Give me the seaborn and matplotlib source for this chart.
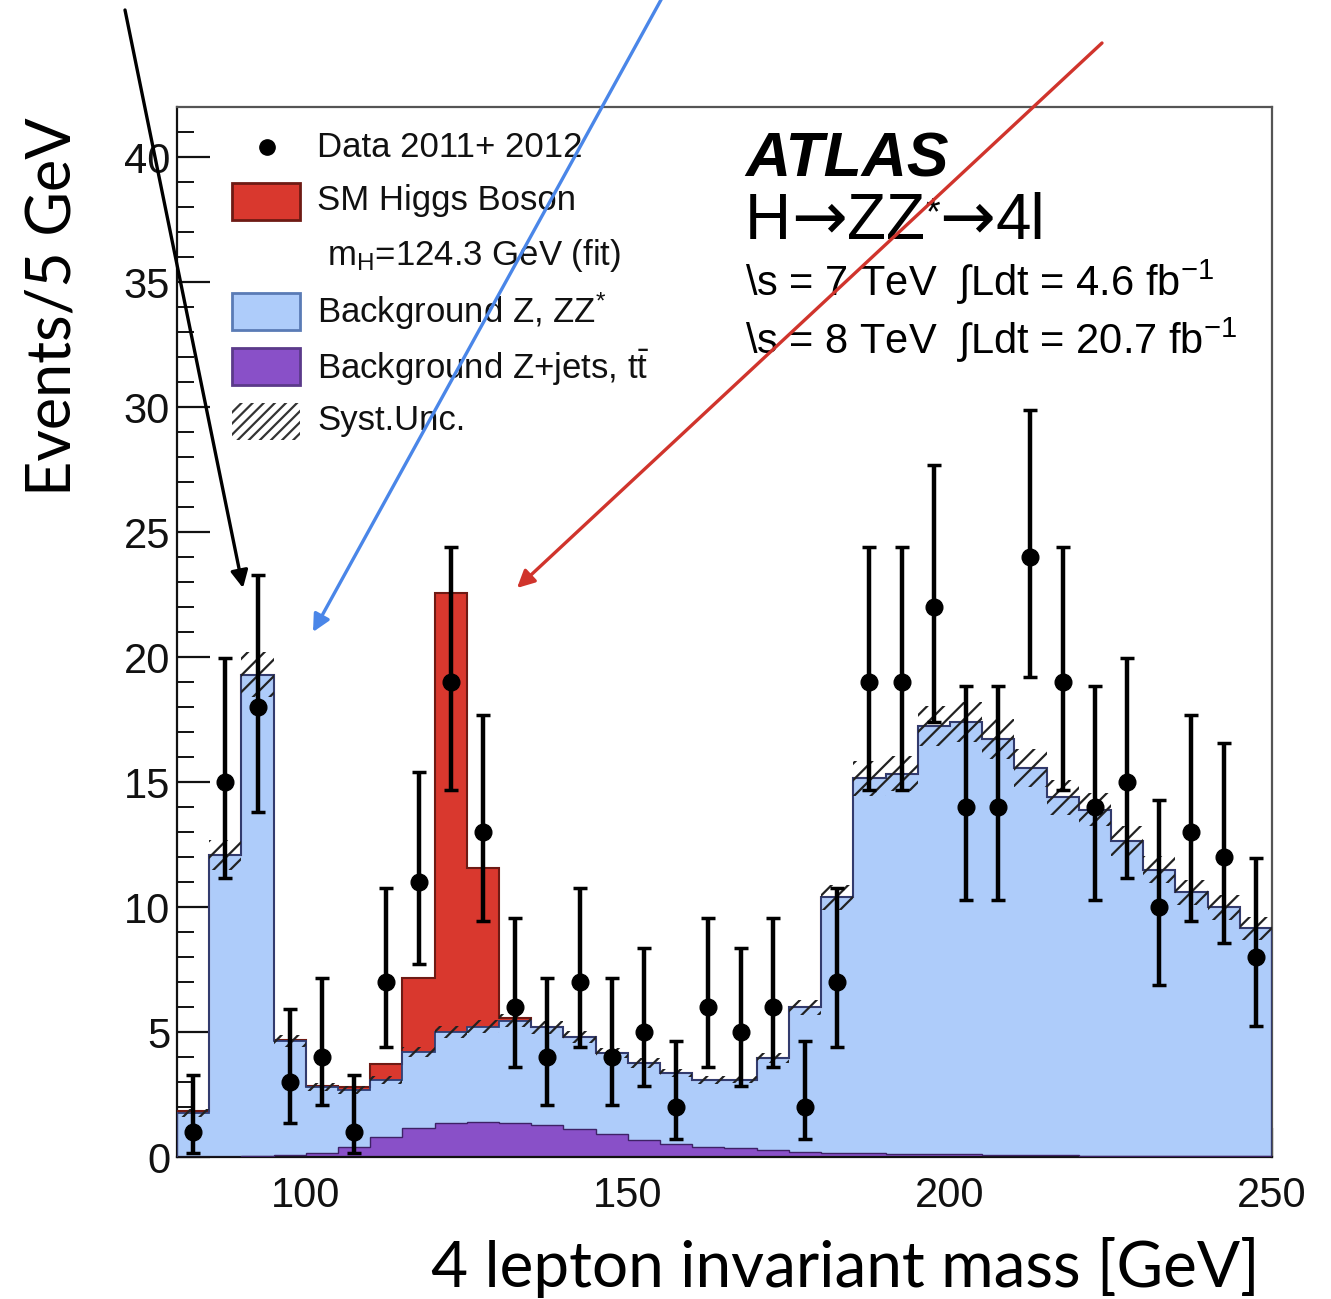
import numpy as np
import pandas as pd
import matplotlib
matplotlib.use("Agg")
import matplotlib.pyplot as plt
import seaborn as sns
from matplotlib.patches import Rectangle
from matplotlib.ticker import MultipleLocator

# ---------------- data ----------------
bin_low = np.arange(80, 250, 5)          # 5 GeV bins, 80 .. 250
bin_width = 5

data_counts = [1, 15, 18, 3, 4, 1, 7, 11, 19, 13, 6, 4, 7, 4, 5, 2, 6, 5, 6, 2,
               7, 19, 19, 22, 14, 14, 24, 19, 14, 15, 10, 13, 12, 8]
data_err_lo = [0.83, 3.83, 4.2, 1.63, 1.91, 0.83, 2.58, 3.27, 4.3, 3.56, 2.38, 1.91,
               2.58, 1.91, 2.16, 1.29, 2.38, 2.16, 2.38, 1.29, 2.58, 4.3, 4.3, 4.6,
               3.7, 3.7, 4.8, 4.3, 3.7, 3.83, 3.11, 3.56, 3.42, 2.77]
data_err_hi = [2.3, 4.96, 5.3, 2.92, 3.16, 2.3, 3.77, 4.42, 5.4, 4.7, 3.58, 3.16,
               3.77, 3.16, 3.38, 2.64, 3.58, 3.38, 3.58, 2.64, 3.77, 5.4, 5.4, 5.7,
               4.83, 4.83, 5.9, 5.4, 4.83, 4.96, 4.27, 4.7, 4.56, 3.95]

bkg_zjets = [0.02, 0.02, 0.03, 0.08, 0.18, 0.41, 0.79, 1.17, 1.37, 1.41,
             1.37, 1.28, 1.11, 0.92, 0.68, 0.52, 0.41, 0.35, 0.28, 0.21,
             0.16, 0.15, 0.13, 0.12, 0.11, 0.10, 0.08, 0.07, 0.06, 0.05,
             0.05, 0.04, 0.04, 0.03]
bkg_zz = [1.75, 12.08, 19.27, 4.56, 2.63, 2.27, 2.29, 3.03, 3.63, 3.81,
          4.09, 3.91, 3.70, 3.25, 3.07, 2.85, 2.67, 2.75, 3.67, 5.79,
          10.24, 15.0, 15.2, 17.14, 17.29, 16.64, 15.49, 14.33, 13.84, 12.59,
          11.45, 10.56, 9.96, 9.12]
sig_higgs = [0.08, 0, 0, 0.05, 0.05, 0.12, 0.64, 2.95, 17.55, 6.35,
             0.1, 0.03, 0, 0, 0, 0, 0, 0, 0, 0,
             0, 0, 0, 0, 0, 0, 0, 0, 0, 0,
             0, 0, 0, 0]
syst_unc = [0.15, 0.6, 0.9, 0.25, 0.15, 0.15, 0.15, 0.2, 0.25, 0.25,
            0.25, 0.25, 0.25, 0.2, 0.2, 0.15, 0.15, 0.15, 0.2, 0.3,
            0.5, 0.7, 0.7, 0.8, 0.8, 0.8, 0.75, 0.7, 0.65, 0.6,
            0.55, 0.5, 0.5, 0.45]

x_ticks = [100, 150, 200, 250]
y_ticks = [0, 5, 10, 15, 20, 25, 30, 35, 40]

# ---------------- style ----------------
sns.set_style("ticks")
plt.rcParams["font.family"] = ["Liberation Sans", "DejaVu Sans"]
plt.rcParams["mathtext.fontset"] = "custom"
plt.rcParams["mathtext.rm"] = "Liberation Sans"
plt.rcParams["mathtext.it"] = "Liberation Sans:italic"
plt.rcParams["mathtext.bf"] = "Liberation Sans:bold"
plt.rcParams["hatch.color"] = "#222222"
plt.rcParams["hatch.linewidth"] = 1.6

C_RED = "#D9382E"
C_BLUE = "#AECCFA"
C_PURP = "#8950C8"
E_RED = "#6e1a14"
E_BLUE = "#2c3f78"
E_PURP = "#3e2266"

edges = np.append(bin_low, bin_low[-1] + bin_width)
centers = bin_low + bin_width / 2

fig = plt.figure(figsize=(13.31, 12.99), dpi=100)
ax = fig.add_axes([0.13298, 0.10931, 0.82269, 0.80831])

# stacked histograms through seaborn (last hue at the bottom of the stack)
comp_names = ["Higgs", "ZZ", "Zjets"]
df = pd.concat([
    pd.DataFrame({"mass": centers, "events": sig_higgs, "comp": "Higgs"}),
    pd.DataFrame({"mass": centers, "events": bkg_zz, "comp": "ZZ"}),
    pd.DataFrame({"mass": centers, "events": bkg_zjets, "comp": "Zjets"}),
], ignore_index=True)
sns.histplot(data=df, x="mass", weights="events", hue="comp", hue_order=comp_names,
             multiple="stack", binwidth=bin_width, binrange=(float(edges[0]), float(edges[-1])),
             element="step", fill=True, alpha=1,
             palette={"Higgs": C_RED, "ZZ": C_BLUE, "Zjets": C_PURP},
             linewidth=0, legend=False, ax=ax)

zj = np.array(bkg_zjets)
tot_bkg = zj + np.array(bkg_zz)
tot_all = tot_bkg + np.array(sig_higgs)

ax.stairs(tot_all, edges, color=E_RED, lw=1.5, zorder=3)
ax.stairs(tot_bkg, edges, color=E_BLUE, lw=1.3, zorder=3)
ax.stairs(zj, edges, color=E_PURP, lw=1.0, zorder=3)

# systematic band
syst = np.array(syst_unc)
ax.bar(centers, 2 * syst, bottom=tot_bkg - syst, width=bin_width, fill=False,
       hatch="//", edgecolor="#222222", linewidth=0, zorder=4)

# data
ax.errorbar(centers, data_counts, yerr=[data_err_lo, data_err_hi], fmt="o",
            color="black", ms=12, elinewidth=3.2, capsize=5, capthick=2.5, zorder=6)

# axes
ax.set_xlim(80, 250)
ax.set_ylim(0, 42)
ax.set_xticks(x_ticks)
ax.set_yticks(y_ticks)
ax.xaxis.set_minor_locator(MultipleLocator(10))
ax.yaxis.set_minor_locator(MultipleLocator(1))
ax.tick_params(axis="both", which="both", direction="in", top=False, right=False,
               labelsize=30, colors="#111111")
ax.tick_params(axis="y", which="major", length=24, width=1.6, pad=5)
ax.tick_params(axis="y", which="minor", length=12, width=1.4)
ax.tick_params(axis="x", which="major", length=21, width=1.6, pad=14)
ax.tick_params(axis="x", which="minor", length=9, width=1.4)
for s in ax.spines.values():
    s.set_linewidth(1.6)
    s.set_color("#555555")
ax.spines["left"].set_color("#111111")
ax.spines["bottom"].set_color("#111111")
ax.set_xlabel("")
ax.set_ylabel("")

# legend (drawn by hand)
tA = ax.transAxes
ax.plot([0.0822], [0.9619], "o", color="black", ms=11, transform=tA, zorder=7)
leg_fs = 25
ax.text(0.1279, 0.9619, "Data 2011+ 2012", transform=tA, fontsize=leg_fs, va="center", color="#111")
ax.add_patch(Rectangle((0.0502, 0.8924), 0.0621, 0.0352, transform=tA, facecolor=C_RED,
                       edgecolor=E_RED, lw=2, zorder=7))
ax.text(0.1279, 0.9105, "SM Higgs Boson", transform=tA, fontsize=leg_fs, va="center", color="#111")
ax.text(0.1370, 0.8590, r"m$_\mathrm{H}$=124.3 GeV (fit)", transform=tA, fontsize=leg_fs,
        va="center", color="#111")
ax.add_patch(Rectangle((0.0502, 0.7876), 0.0621, 0.0352, transform=tA, facecolor=C_BLUE,
                       edgecolor="#5a7bb5", lw=2, zorder=7))
ax.text(0.1279, 0.8057, r"Background Z, ZZ$^{*}$", transform=tA, fontsize=leg_fs, va="center", color="#111")
ax.add_patch(Rectangle((0.0502, 0.7352), 0.0621, 0.0352, transform=tA, facecolor=C_PURP,
                       edgecolor="#5b3a8a", lw=2, zorder=7))
ax.text(0.1279, 0.7514, r"Background Z+jets, $\mathrm{t\bar{t}}$", transform=tA, fontsize=leg_fs,
        va="center", color="#111")
ax.add_patch(Rectangle((0.0502, 0.6829), 0.0621, 0.0352, transform=tA, fill=False,
                       hatch="///", edgecolor="#333333", lw=0, zorder=7))
ax.text(0.1279, 0.7019, "Syst.Unc.", transform=tA, fontsize=leg_fs, va="center", color="#111")

# ATLAS label
ax.text(0.5187, 0.9495, "ATLAS", transform=tA, fontsize=45, fontweight="bold",
        fontstyle="italic", va="center", color="black")
# H -> ZZ* -> 4l built from pieces so the arrows and the superscript look right
t_h = ax.text(0.5187, 0.8905, "H", transform=tA, fontsize=46, va="center", color="black")
pieces = [("→", 48, "DejaVu Sans", 0.0, "bottom"),
          ("ZZ", 46, "Liberation Sans", 0.0, "bottom"),
          ("*", 27, "Liberation Sans", 0.93, "top"),
          ("→", 48, "DejaVu Sans", 0.0, "bottom"),
          ("4l", 46, "Liberation Sans", 0.0, "bottom")]
prev = t_h
for txt, fs, famname, yfrac, va in pieces:
    prev = ax.annotate(txt, xy=(1.0, yfrac), xycoords=(prev, t_h), fontsize=fs,
                       family=famname, va=va, ha="left", color="black")
ax.text(0.5187, 0.8333, r"\s = 7 TeV  ∫Ldt = 4.6 fb$^{-1}$", transform=tA, fontsize=30,
        va="center", color="black")
ax.text(0.5187, 0.7780, r"\s = 8 TeV  ∫Ldt = 20.7 fb$^{-1}$", transform=tA, fontsize=30,
        va="center", color="black")

# axis titles (figure pixels)
fig.text(53 / 1331, 1 - 307 / 1299, "Events/5 GeV", rotation=90, fontsize=44,
         family=["Lato", "DejaVu Sans"], ha="center", va="center", color="black")
fig.text(845 / 1331, 1 - 1268 / 1299, "4 lepton invariant mass [GeV]", fontsize=46,
         family=["Lato", "DejaVu Sans"], ha="center", va="center", color="black")

# annotation arrows
arrows = [((125, 1289), (243, 711), "black"),
          ((662, 1301), (313, 667), "#4A86E8"),
          ((1102, 1256), (517, 711), "#D0342C")]
for start, end, col in arrows:
    ax.annotate("", xy=end, xytext=start, xycoords="figure pixels",
                textcoords="figure pixels", annotation_clip=False,
                arrowprops=dict(arrowstyle="-|>", color=col, lw=2.4, mutation_scale=26,
                                shrinkA=0, shrinkB=0), zorder=10)

fig.savefig("out.png", dpi=100)
